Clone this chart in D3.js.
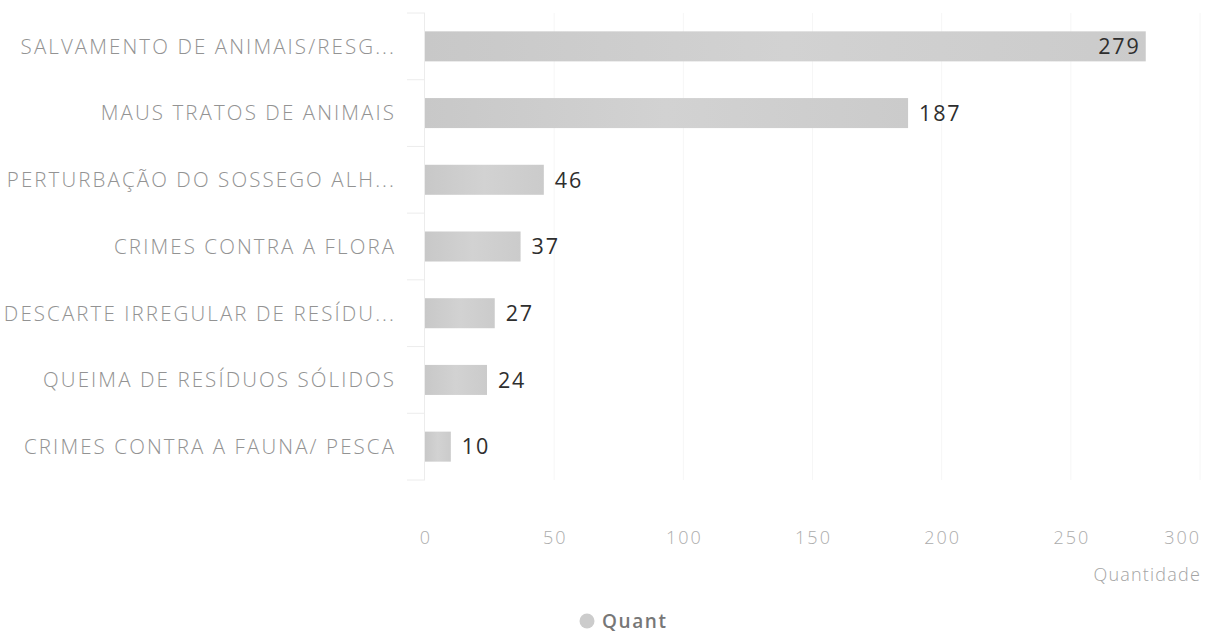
<!DOCTYPE html>
<html><head><meta charset="utf-8">
<script src="https://cdn.jsdelivr.net/npm/d3@7"></script>
<style>
html,body{margin:0;padding:0;background:#fff;}
svg{display:block;font-family:"Open Sans",sans-serif;}
</style></head>
<body>
<svg id="chart" width="1215" height="634"></svg>
<script>
const categories = [
  "SALVAMENTO DE ANIMAIS/RESG...",
  "MAUS TRATOS DE ANIMAIS",
  "PERTURBAÇÃO DO SOSSEGO ALH...",
  "CRIMES CONTRA A FLORA",
  "DESCARTE IRREGULAR DE RESÍDU...",
  "QUEIMA DE RESÍDUOS SÓLIDOS",
  "CRIMES CONTRA A FAUNA/ PESCA"
];
const values = [279, 187, 46, 37, 27, 24, 10];
const tickValues = [0, 50, 100, 150, 200, 250, 300];
const seriesName = "Quant";
const axisTitle = "Quantidade";

(function () {
const svg = d3.select("#chart");
const pl = 425, pr = 1200, pt = 13, pb = 480;

const x = d3.scaleLinear().domain([0, 300]).range([pl, pr]);
const y = d3.scaleBand().domain(categories).range([pt, pb]).paddingInner(0.55).paddingOuter(0.275);
const yb = d3.scaleBand().domain(categories).range([pt, pb]);

svg.append("g").selectAll("line").data(tickValues.slice(1)).join("line")
  .attr("x1", d => x(d)).attr("x2", d => x(d))
  .attr("y1", pt).attr("y2", pb)
  .attr("stroke", "#f6f6f6").attr("stroke-width", 1);

svg.append("line").attr("x1", pl - 0.5).attr("x2", pl - 0.5)
  .attr("y1", pt).attr("y2", pb).attr("stroke", "#ececec");
const bounds = categories.map(c => yb(c)).concat([pb]);
svg.append("g").selectAll("line").data(bounds).join("line")
  .attr("x1", pl - 18).attr("x2", pl)
  .attr("y1", d => d).attr("y2", d => d)
  .attr("stroke", "#ececec");

const defs = svg.append("defs");
const grad = defs.append("linearGradient").attr("id", "barGrad").attr("x1", 0).attr("x2", 1).attr("y1", 0).attr("y2", 0);
grad.append("stop").attr("offset", "0%").attr("stop-color", "#c8c8c8");
grad.append("stop").attr("offset", "50%").attr("stop-color", "#d2d2d2");
grad.append("stop").attr("offset", "100%").attr("stop-color", "#cbcbcb");

const data = categories.map((c, i) => ({c, v: values[i]}));

svg.append("g").selectAll("rect").data(data).join("rect")
  .attr("x", x(0)).attr("y", d => y(d.c))
  .attr("width", d => x(d.v) - x(0)).attr("height", y.bandwidth())
  .attr("fill", "url(#barGrad)");

const catLS = 2.1;
svg.append("g").selectAll("text").data(categories).join("text")
  .attr("x", 394 + catLS).attr("y", d => yb(d) + yb.bandwidth() / 2)
  .attr("dy", "0.36em").attr("text-anchor", "end")
  .attr("font-size", 20.5).attr("font-weight", 300).attr("fill", "#939393")
  .attr("letter-spacing", catLS)
  .text(d => d);

const valLS = 1.8;
svg.append("g").selectAll("text").data(data).join("text")
  .attr("x", d => d.v > 250 ? x(d.v) - 7 + valLS : x(d.v) + 11)
  .attr("y", d => y(d.c) + y.bandwidth() / 2)
  .attr("dy", "0.36em")
  .attr("text-anchor", d => d.v > 250 ? "end" : "start")
  .attr("font-size", 21.5).attr("fill", "#2e2e2e")
  .attr("letter-spacing", valLS)
  .text(d => d.v);

const tickLS = 2;
svg.append("g").selectAll("text").data(tickValues).join("text")
  .attr("x", (d, i) => i === tickValues.length - 1 ? x(d) + tickLS - 1 : x(d) + tickLS / 2)
  .attr("y", 544)
  .attr("text-anchor", (d, i) => i === tickValues.length - 1 ? "end" : "middle")
  .attr("font-size", 18).attr("font-weight", 300).attr("fill", "#acacac")
  .attr("letter-spacing", tickLS)
  .text(d => d);

svg.append("text").attr("x", 1201).attr("y", 581).attr("text-anchor", "end")
  .attr("font-size", 18).attr("font-weight", 300).attr("fill", "#a4a4a4")
  .attr("letter-spacing", 1.2)
  .text(axisTitle);

const lg = svg.append("g");
lg.append("circle").attr("cx", 587).attr("cy", 621).attr("r", 7.5).attr("fill", "#cccccc");
lg.append("text").attr("x", 602).attr("y", 621).attr("dy", "0.36em")
  .attr("font-size", 19).attr("font-weight", 600).attr("fill", "#777")
  .attr("letter-spacing", 1.6)
  .text(seriesName);
})();
</script>
</body></html>
